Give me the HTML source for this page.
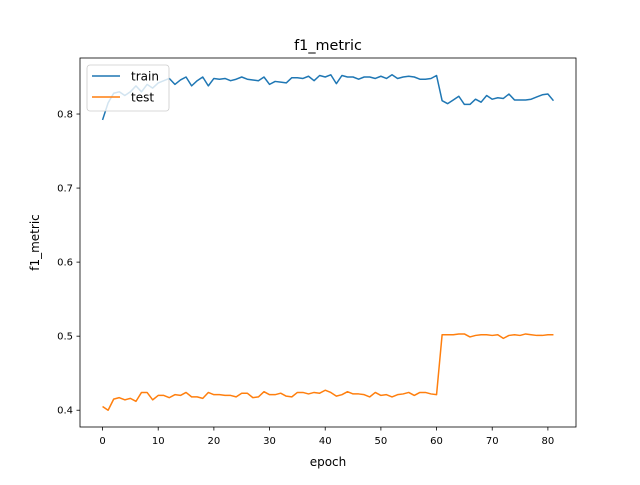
<!DOCTYPE html>
<html><head><meta charset="utf-8"><style>
body{margin:0;background:#fff}
svg text{font-family:"DejaVu Sans","Liberation Sans",sans-serif;fill:#000}
</style></head><body>
<svg id="c" width="640" height="480" xmlns="http://www.w3.org/2000/svg">
<rect width="640" height="480" fill="#fff"/>
<g id="grid"></g>
<g id="series"></g>
<rect x="80" y="58" width="496" height="369" fill="none" stroke="#000" stroke-width="0.8"/>
<g id="ticks"></g>
<text x="328" y="50" font-size="14.4" text-anchor="middle">f1_metric</text>
<text x="328" y="466" font-size="12" text-anchor="middle">epoch</text>
<text transform="translate(39,242.5) rotate(-90)" font-size="12" text-anchor="middle">f1_metric</text>
<g>
<rect x="87" y="65" width="82" height="46" rx="3" fill="#fff" fill-opacity="0.8" stroke="#ccc" stroke-width="0.8"/>
<g><line x1="92" y1="76" x2="120" y2="76" stroke="#1f77b4" stroke-width="1.5"/><text x="131" y="80.5" font-size="12">train</text></g>
<g><line x1="92" y1="97" x2="120" y2="97" stroke="#ff7f0e" stroke-width="1.5"/><text x="131" y="101.5" font-size="12">test</text></g>
</g>
</svg>
<script>
const xTicks=[0,10,20,30,40,50,60,70,80];
const yTicks=[0.4,0.5,0.6,0.7,0.8];
const yTickLabels=["0.4","0.5","0.6","0.7","0.8"];
const train=[0.792,0.815,0.828,0.830,0.825,0.830,0.838,0.830,0.840,0.835,0.842,0.845,0.848,0.840,0.846,0.850,0.838,0.845,0.850,0.838,0.848,0.847,0.848,0.845,0.847,0.850,0.847,0.846,0.845,0.850,0.840,0.844,0.843,0.842,0.849,0.849,0.848,0.851,0.845,0.852,0.850,0.853,0.841,0.852,0.850,0.850,0.847,0.850,0.850,0.848,0.851,0.848,0.853,0.848,0.850,0.851,0.850,0.847,0.847,0.848,0.852,0.818,0.814,0.819,0.824,0.813,0.813,0.820,0.816,0.825,0.820,0.822,0.821,0.827,0.819,0.819,0.819,0.820,0.823,0.826,0.827,0.818];
const test=[0.405,0.400,0.415,0.417,0.414,0.416,0.412,0.424,0.424,0.414,0.420,0.420,0.417,0.421,0.420,0.424,0.418,0.418,0.416,0.424,0.421,0.421,0.420,0.420,0.418,0.423,0.423,0.417,0.418,0.425,0.421,0.421,0.423,0.419,0.418,0.424,0.424,0.422,0.424,0.423,0.427,0.424,0.419,0.421,0.425,0.422,0.422,0.421,0.418,0.424,0.420,0.421,0.418,0.421,0.422,0.424,0.420,0.424,0.424,0.422,0.421,0.502,0.502,0.502,0.503,0.503,0.499,0.501,0.502,0.502,0.501,0.502,0.497,0.501,0.502,0.501,0.503,0.502,0.501,0.501,0.502,0.502];
const L=80,R=576,T=58,B=427;
const n=Math.max(train.length,test.length)-1;
const xmin=-0.05*n,xmax=n*1.05;
const all=train.concat(test);
let ymn=Math.min(...all),ymx=Math.max(...all),pad=(ymx-ymn)*0.05;
const y0=ymn-pad,y1=ymx+pad;
const sx=v=>L+(v-xmin)/(xmax-xmin)*(R-L);
const sy=v=>B-(v-y0)/(y1-y0)*(B-T);
const NS="http://www.w3.org/2000/svg";
const tk=document.getElementById('ticks');
function mk(tag,attrs,parent){const e=document.createElementNS(NS,tag);for(const k in attrs)e.setAttribute(k,attrs[k]);parent.appendChild(e);return e;}
xTicks.forEach(v=>{const x=sx(v);
 const l=mk('line',{x1:x,x2:x,y1:B,y2:B+3.5,stroke:'#000','stroke-width':0.8},tk);
 
 
 const t=mk('text',{x:x,y:B+17,'font-size':10,'text-anchor':'middle'},tk);t.textContent=v;
 
 });
yTicks.forEach((v,i)=>{const y=sy(v);
 const l=mk('line',{x1:L-3.5,x2:L,y1:y,y2:y,stroke:'#000','stroke-width':0.8},tk);
 
 
 const t=mk('text',{x:L-7,y:y+3.5,'font-size':10,'text-anchor':'end'},tk);t.textContent=yTickLabels[i];
 
 });
const sg=document.getElementById('series');
function line(d,c,name){const p=mk('polyline',{points:d.map((v,i)=>sx(i)+','+sy(v)).join(' '),fill:'none',stroke:c,'stroke-width':1.5,'stroke-linejoin':'round'},sg);
 
 }
line(train,'#1f77b4','train-line');
line(test,'#ff7f0e','test-line');
</script>
</body></html>
